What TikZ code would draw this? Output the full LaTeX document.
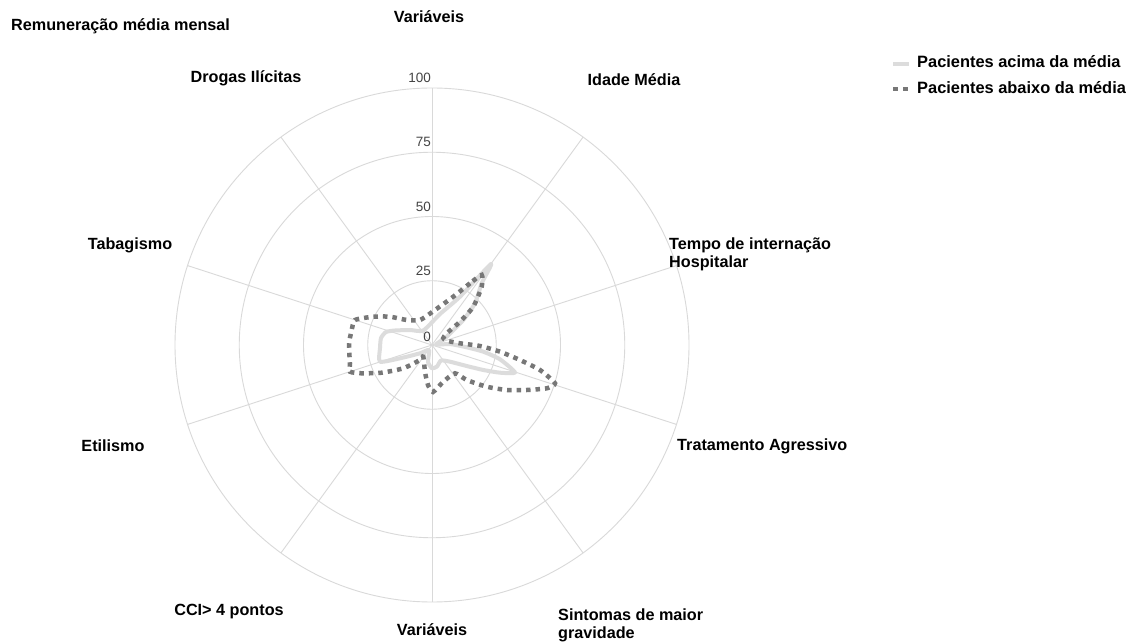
\documentclass[tikz,border=0pt]{standalone}
\usepackage{fontspec}
\setmainfont{Liberation Sans}
\begin{document}
\begin{tikzpicture}[x=1pt,y=1pt,
  gridline/.style={draw=gridgray,line width=0.9pt},
  axlabel/.style={font=\fontsize{16.2}{18}\selectfont\bfseries,text=black,inner sep=0pt},
  leglabel/.style={font=\fontsize{16.4}{18}\selectfont\bfseries,text=black,inner sep=0pt,anchor=west},
  ticklabel/.style={font=\fontsize{13.5}{15}\selectfont,text=tickgray,inner sep=0pt,anchor=south east},
  seriesA/.style={draw=lightser,line width=4pt,line join=round},
  seriesB/.style={draw=darkser,line width=4.5pt,dash pattern=on 4.5pt off 5pt},
]
\definecolor{gridgray}{HTML}{D9D9D9}
\definecolor{tickgray}{HTML}{444444}
\definecolor{lightser}{HTML}{DCDCDC}
\definecolor{darkser}{HTML}{777777}
\useasboundingbox (0,0) rectangle (1132,643);
\fill[white] (0,0) rectangle (1132,643);
\coordinate (c) at (432,298);
% grid
\foreach \r in {64.25,128.5,192.75,257} \draw[gridline] (c) circle (\r);
\foreach \i in {0,...,9} \draw[gridline] (c) -- ++({90-36*\i}:257);
% tick labels
\node[ticklabel] (t0) at (431,301) {0};
\node[ticklabel] (t25) at (431,367.25) {25};
\node[ticklabel] (t50) at (431,431.5) {50};
\node[ticklabel] (t75) at (431,495.75) {75};
\node[ticklabel] (t100) at (431,560) {100};
% series (traced in image coordinates)
\begin{scope}[shift={(0,643)},yscale=-1]
\draw[seriesA] plot[smooth cycle,tension=0.35] coordinates {
  (491,264) (460,296.7) (440,314) (423.3,330.5) (410,330) (395,330.5) (386,332)
  (381,338) (380,348) (380,361.7) (400,358.3) (420,353.3) (429,350) (428,362)
  (432,368.3) (437,366.5) (441,360.5) (450,361.7) (466.7,366) (483.3,370)
  (500,372.7) (515,372.5) (500,359.3) (483.3,351.7) (466.7,347.3) (450,344)
  (436,344.5) (446.7,336.7) (463.3,320) (475,303.3) (481.7,283.3)};
\draw[seriesB] plot[smooth cycle,tension=0.35] coordinates {
  (481.7,275) (470,283.3) (453.3,296.7) (435,310) (420,320) (406.7,320)
  (390,316.7) (373.3,316.7) (355,320) (351.7,330) (349.3,341.7) (349.3,353.3)
  (350,363.3) (350,371.7) (361.7,373.3) (381.7,372.7) (403.3,368.3) (420,360)
  (423.3,356.7) (425,372) (428,385) (433,392) (443.3,381.7) (455,373.3)
  (466.7,380) (486.7,386.7) (506.7,390) (526.7,390) (546.7,388.3) (555,383.3)
  (540,370) (520,360) (500,351.7) (480,346) (460,343.3) (446.7,340.7)
  (443.3,338) (446.7,333.3) (460,321.7) (473.3,306.7) (481.7,286.7)};
\end{scope}
% axis labels
\node[axlabel,anchor=west] (rem) at (11,617) {Remuneração média mensal};
\node[axlabel] (vartop) at (429,626) {Variáveis};
\node[axlabel] (drogas) at (246,565) {Drogas Ilícitas};
\node[axlabel] (idade) at (634,563) {Idade Média};
\node[axlabel,anchor=west,align=left] (tempo) at (669,389) {Tempo de internação\\Hospitalar};
\node[axlabel] (tabag) at (130,398) {Tabagismo};
\node[axlabel,anchor=west] (trat) at (677,197) {Tratamento Agressivo};
\node[axlabel] (etil) at (113,197) {Etilismo};
\node[axlabel] (cci) at (229,31) {CCI> 4 pontos};
\node[axlabel] (varbot) at (432,13) {Variáveis};
\node[axlabel,anchor=west,align=left] (sint) at (558,17.5) {Sintomas de maior\\gravidade};
% legend
\coordinate (la1) at (893,579);
\coordinate (la2) at (909,579);
\coordinate (lb1) at (893,554);
\coordinate (lb2) at (909,554);
\draw[draw=lightser,line width=3.5pt] (la1) -- (la2);
\draw[draw=darkser,line width=4.5pt,dash pattern=on 4.5pt off 5.5pt] (lb1) -- (lb2);
\node[leglabel] (leg1) at (917,581) {Pacientes acima da média};
\node[leglabel] (leg2) at (917,555) {Pacientes abaixo da média};
\end{tikzpicture}
\end{document}
